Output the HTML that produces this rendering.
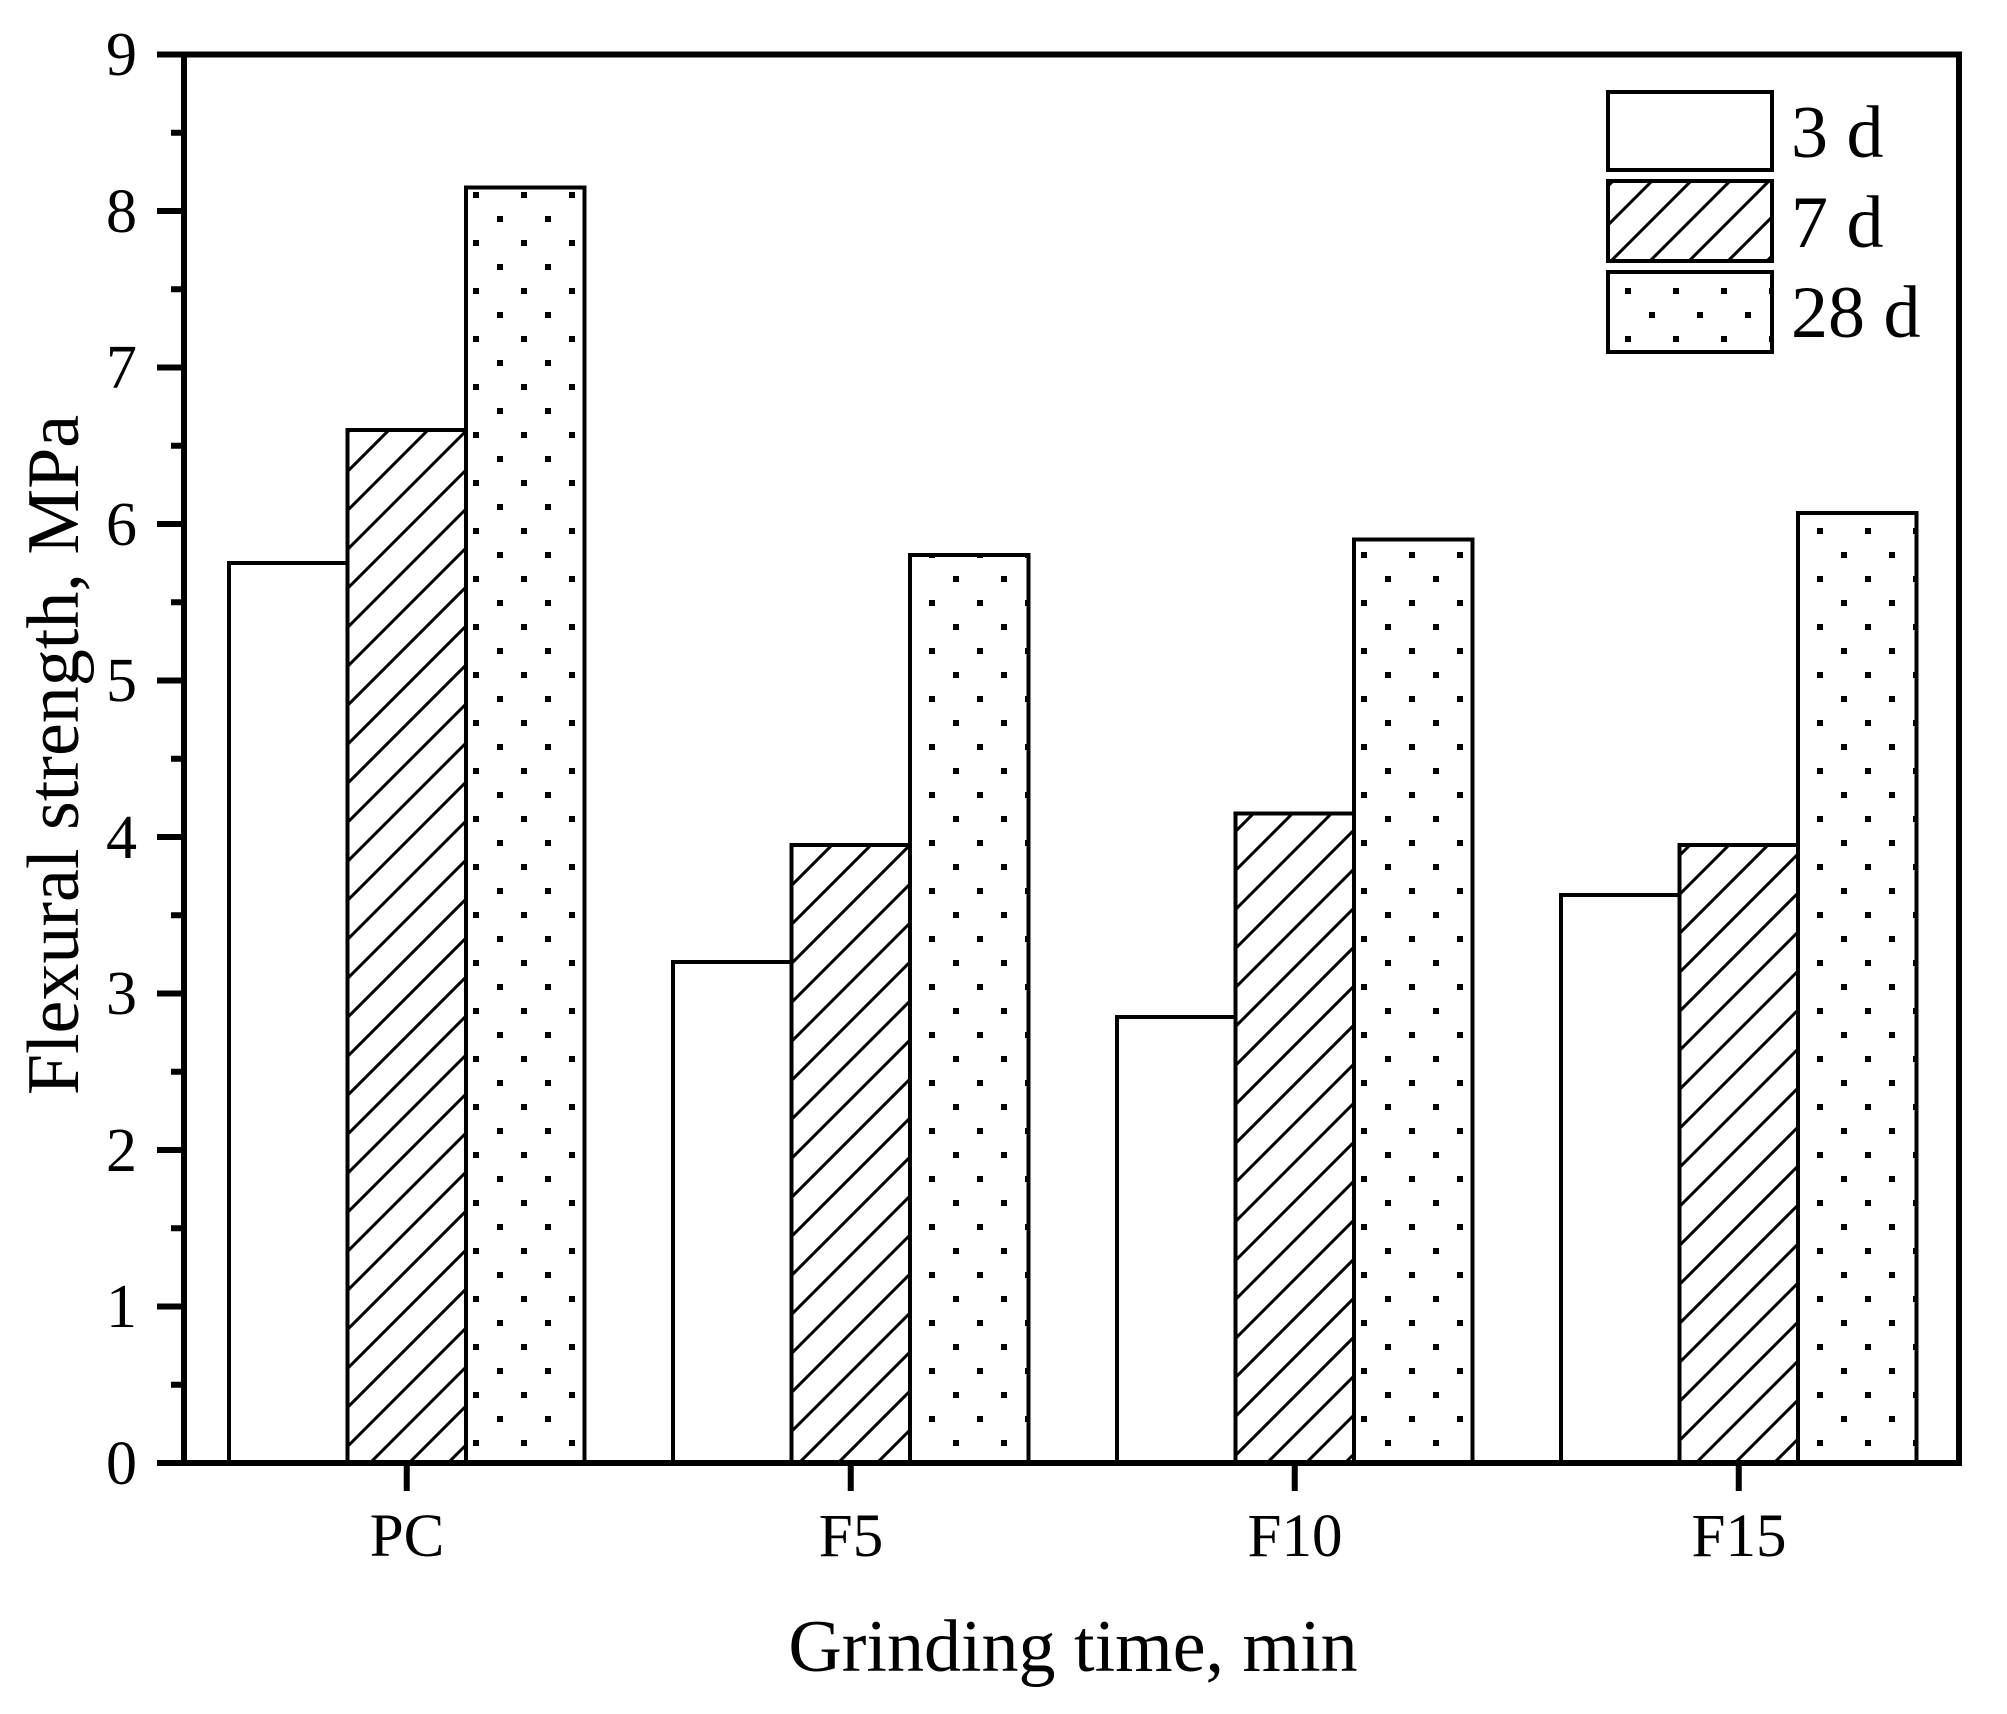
<!DOCTYPE html>
<html><head><meta charset="utf-8"><style>html,body{margin:0;padding:0;background:#fff}</style></head>
<body>
<svg width="2007" height="1709" viewBox="0 0 2007 1709" xmlns="http://www.w3.org/2000/svg" font-family="'Liberation Serif', serif">
<defs>
<pattern id="hatch" patternUnits="userSpaceOnUse" width="39" height="39">
<path d="M-10,49 L49,-10 M-10,10 L10,-10 M29,49 L49,29" stroke="#000" stroke-width="3"/>
</pattern>
<pattern id="dots" patternUnits="userSpaceOnUse" width="48" height="48" x="233" y="0">
<rect x="0" y="0" width="6" height="6" fill="#000"/>
<rect x="24" y="24" width="6" height="6" fill="#000"/>
</pattern>
</defs>
<g id="bars" stroke="#000" stroke-width="4">
<rect x="229" y="563" width="118.5" height="900" fill="#fff"/>
<rect x="347.5" y="430" width="118.5" height="1033" fill="url(#hatch)"/>
<rect x="466" y="187.5" width="118.5" height="1275.5" fill="url(#dots)"/>
<rect x="673" y="962" width="118.5" height="501" fill="#fff"/>
<rect x="791.5" y="845" width="118.5" height="618" fill="url(#hatch)"/>
<rect x="910" y="555" width="118.5" height="908" fill="url(#dots)"/>
<rect x="1117" y="1017" width="118.5" height="446" fill="#fff"/>
<rect x="1235.5" y="813.5" width="118.5" height="649.5" fill="url(#hatch)"/>
<rect x="1354" y="539.5" width="118.5" height="923.5" fill="url(#dots)"/>
<rect x="1561" y="895" width="118.5" height="568" fill="#fff"/>
<rect x="1679.5" y="845" width="118.5" height="618" fill="url(#hatch)"/>
<rect x="1798" y="513" width="118.5" height="950" fill="url(#dots)"/>
</g>
<rect x="184" y="54.5" width="1775" height="1408.5" fill="none" stroke="#000" stroke-width="6"/>
<g stroke="#000" stroke-width="6">
<path d="M157,54.5H184 M157,211H184 M157,367.5H184 M157,524H184 M157,680.5H184 M157,837H184 M157,993.5H184 M157,1150H184 M157,1306.5H184 M157,1463H184"/>
<path d="M171,132.75H184 M171,289.25H184 M171,445.75H184 M171,602.25H184 M171,758.75H184 M171,915.25H184 M171,1071.75H184 M171,1228.25H184 M171,1384.75H184"/>
<path d="M406.75,1463V1491 M850.75,1463V1491 M1294.75,1463V1491 M1738.75,1463V1491"/>
</g>
<g font-size="62" text-anchor="end">
<text x="137" y="75">9</text><text x="137" y="232">8</text><text x="137" y="388">7</text><text x="137" y="545">6</text><text x="137" y="701">5</text><text x="137" y="858">4</text><text x="137" y="1014">3</text><text x="137" y="1171">2</text><text x="137" y="1327">1</text><text x="137" y="1484">0</text>
</g>
<g font-size="61" text-anchor="middle">
<text x="407" y="1556">PC</text><text x="851" y="1556">F5</text><text x="1295" y="1556">F10</text><text x="1739" y="1556">F15</text>
</g>
<text x="1073" y="1671" font-size="74" text-anchor="middle">Grinding time, min</text>
<text transform="translate(78,755) rotate(-90)" font-size="74" text-anchor="middle">Flexural strength, MPa</text>
<g stroke="#000" stroke-width="4">
<rect x="1608" y="92" width="164" height="78" fill="#fff"/>
<rect x="1608" y="181" width="164" height="80" fill="url(#hatch)"/>
<rect x="1608" y="272" width="164" height="80" fill="url(#dots)"/>
</g>
<g font-size="74">
<text x="1791" y="157">3 d</text><text x="1791" y="247">7 d</text><text x="1791" y="337">28 d</text>
</g>
</svg>
</body></html>
